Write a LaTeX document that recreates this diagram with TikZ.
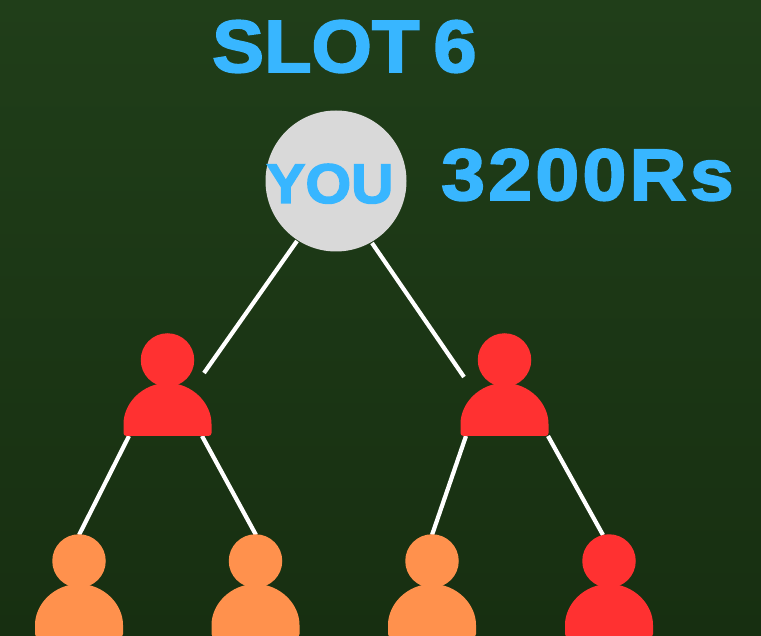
\documentclass[tikz,border=0pt]{standalone}
\usepackage{fontspec}
\setmainfont{Liberation Sans}[BoldFont={Liberation Sans Bold}]
\definecolor{bgtop}{RGB}{32,62,25}
\definecolor{bgbot}{RGB}{23,47,17}
\definecolor{txtblue}{RGB}{56,182,255}
\definecolor{pred}{RGB}{255,49,49}
\definecolor{porange}{RGB}{255,145,77}
\definecolor{yougrey}{RGB}{217,217,217}
\tikzset{
  link/.style={draw=white,line width=4.2pt},
  headnode/.style={circle,inner sep=0pt,minimum size=53.5pt},
  label/.style={text=txtblue,inner sep=0pt,font=\bfseries},
}
% #1 name, #2 colour, #3 centre x, #4 head centre y
\newcommand{\personfig}[4]{%
  \fill[#2,rounded corners=3pt] (#3-44,#4+76) -- (#3-44,#4+67)
     arc[start angle=180,end angle=360,radius=44] -- (#3+44,#4+76) -- cycle;
  \node[headnode,fill=#2] (#1) at (#3,#4) {};
}
\begin{document}
\begin{tikzpicture}[x=1pt,y=-1pt]
\useasboundingbox (0,0) rectangle (761,636);
\shade[top color=bgtop,bottom color=bgbot] (0,0) rectangle (761,636);
% free ends of the connectors
\coordinate (youL) at (297,241);
\coordinate (youR) at (372,243);
\coordinate (endL) at (204,373);
\coordinate (endR) at (464,377);
\coordinate (lftA) at (129,436);
\coordinate (lftB) at (202,436);
\coordinate (rgtA) at (466,436);
\coordinate (rgtB) at (548,436);
\coordinate (c1) at (79,535);
\coordinate (c2) at (256,535);
\coordinate (c3) at (432,535);
\coordinate (c4) at (603,535);
\draw[link] (youL) -- (endL);
\draw[link] (youR) -- (endR);
\draw[link] (lftA) -- (c1);
\draw[link] (lftB) -- (c2);
\draw[link] (rgtA) -- (c3);
\draw[link] (rgtB) -- (c4);
\node[circle,fill=yougrey,inner sep=0pt,minimum size=141pt] (you) at (336,181) {};
\personfig{p1}{pred}{167.5}{360}
\personfig{p2}{pred}{504.5}{360}
\personfig{p3}{porange}{79}{561}
\personfig{p4}{porange}{255.5}{561}
\personfig{p5}{porange}{432}{561}
\personfig{p6}{pred}{609}{561}
\node[label,anchor=base west,font=\fontsize{74}{74}\selectfont\bfseries\addfontfeature{FakeBold=2.5,FakeStretch=1.05}] (slot) at (212,72) {SLOT\kern 14pt 6};
\node[label,anchor=base west,font=\fontsize{56}{56}\selectfont\bfseries\addfontfeature{FakeBold=2.5,FakeStretch=1.05}] (youtxt) at (266,203) {YOU};
\node[label,anchor=base west,font=\fontsize{73}{73}\selectfont\bfseries\addfontfeature{FakeBold=2.5,FakeStretch=1.08,LetterSpace=4.5}] (money) at (441,200) {3200Rs};
\end{tikzpicture}
\end{document}
